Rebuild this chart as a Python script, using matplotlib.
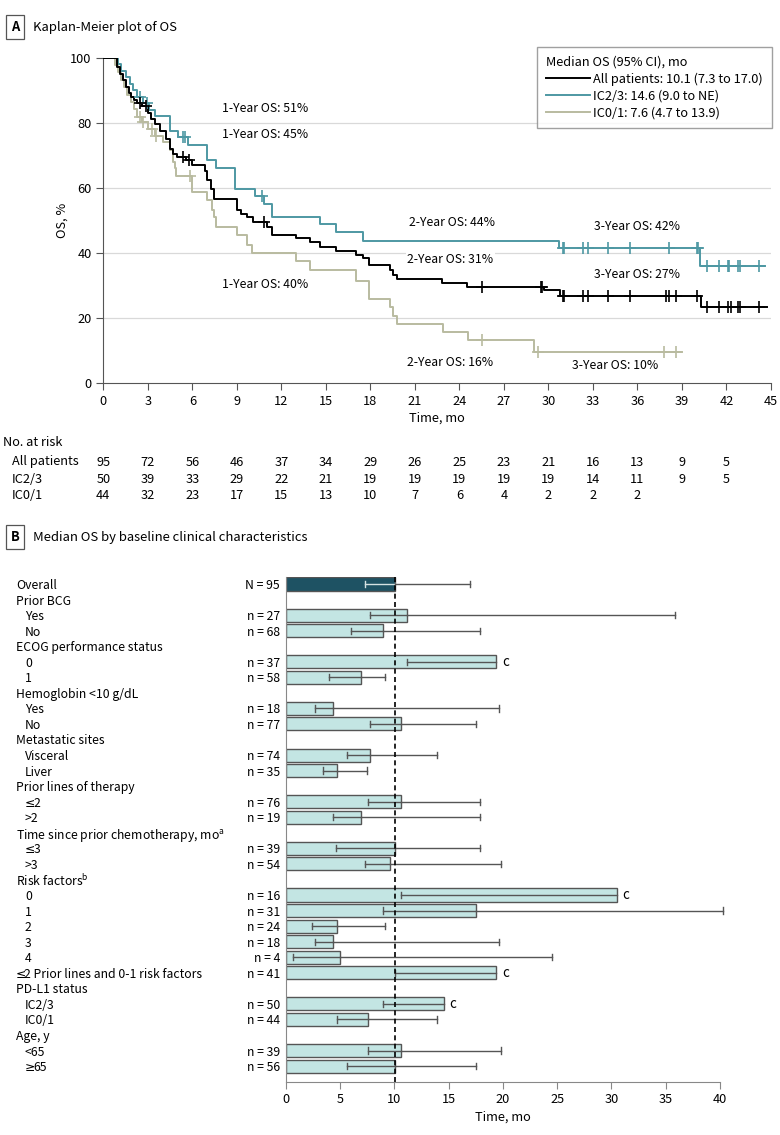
import numpy as np
import matplotlib
matplotlib.use("Agg")
import matplotlib.pyplot as plt
from matplotlib.lines import Line2D
from matplotlib.transforms import blended_transform_factory as blend, offset_copy

FONT = ['Noto Sans CJK SC', 'DejaVu Sans']
SYM_FONT = ['Noto Sans', 'DejaVu Sans']
plt.rcParams['font.family'] = FONT
plt.rcParams['mathtext.fontset'] = 'custom'
plt.rcParams['mathtext.rm'] = 'Noto Sans CJK SC'
FS = 8.8
plt.rcParams['font.size'] = FS

# ---------------- Panel A data (Kaplan-Meier) ----------------
all_t = [0, 0.9, 1.1, 1.3, 1.5, 1.7, 1.9, 2.1, 2.3, 2.6, 3.0, 3.2, 3.5, 3.8, 4.2, 4.5, 4.7, 5.0,
         5.6, 6.0, 6.85, 7.0, 7.25, 7.47, 9.0, 9.3, 9.66, 10.1, 11.0, 11.35, 13.0, 13.9, 14.6, 15.7,
         17.0, 17.5, 17.9, 19.3, 19.5, 19.8, 22.8, 24.5, 29.7, 30.8, 40.3]
all_s = [100, 97, 95, 93, 91, 89, 88, 87, 86, 85, 83, 81, 79.5, 77.5, 75, 72, 70.5, 69.5,
         68.5, 67, 65, 62.5, 59.5, 56.4, 53, 52, 51, 49.5, 48, 45.5, 44.4, 43.2, 41.8, 40.4,
         39.3, 38.3, 36.2, 34.7, 33.1, 31.8, 30.8, 29.4, 28.4, 26.8, 23.4]
all_cens = [2.47, 2.87, 5.4, 5.75, 10.8, 25.5, 29.5, 29.6, 31.0, 31.07, 32.3, 32.7, 34.0, 35.5,
            37.9, 38.1, 38.6, 40.0, 40.7, 41.5, 42.1, 42.3, 42.8, 42.9, 44.2]
all_end = 44.7

hi_t = [0, 1.0, 1.2, 1.5, 1.8, 2.0, 2.3, 2.7, 3.1, 3.5, 4.5, 5.05, 5.7, 6.97, 7.6, 8.9, 10.2,
        10.8, 11.35, 14.6, 15.7, 17.5, 30.7, 40.2]
hi_s = [100, 98, 96, 94, 92, 90, 88, 86, 84, 82, 77.5, 75.5, 73, 68.5, 66, 59.5, 57.3,
        55, 51, 48.7, 46.3, 43.5, 41.6, 35.9]
hi_cens = [2.45, 2.95, 5.4, 5.5, 10.7, 31.0, 31.07, 32.3, 32.7, 34.0, 35.5, 38.1, 40.0, 40.1,
           40.7, 41.5, 42.1, 42.2, 42.8, 42.9, 44.2]
hi_end = 44.6

lo_t = [0, 0.8, 1.0, 1.2, 1.4, 1.6, 1.9, 2.1, 2.3, 2.6, 3.0, 3.5, 4.0, 4.5, 4.7, 4.8, 4.9,
        5.95, 6.96, 7.3, 7.45, 7.6, 9.0, 9.66, 9.99, 13.0, 13.9, 17.0, 17.9, 19.3, 19.5, 19.8,
        22.9, 24.6, 29.0]
lo_s = [100, 97.7, 95.5, 93.2, 90.9, 88.6, 86.4, 84.1, 81.8, 80.3, 78, 76, 74.2, 71.6, 68, 66, 63.6,
        58.8, 56.2, 53.1, 51, 48, 45.4, 42.4, 40, 37.5, 34.7, 31.4, 25.8, 23.2, 20.6, 18.1,
        15.5, 13.0, 9.4]
lo_cens = [2.45, 2.7, 3.3, 3.55, 5.85, 25.5, 29.3, 37.8, 38.6]
lo_end = 38.97

series_names = ['All patients: 10.1 (7.3 to 17.0)', 'IC2/3: 14.6 (9.0 to NE)', 'IC0/1: 7.6 (4.7 to 13.9)']
series_colors = ['#000000', '#4E98A3', '#B9BBA0']

risk_times = [0, 3, 6, 9, 12, 15, 18, 21, 24, 27, 30, 33, 36, 39, 42]
risk_all = [95, 72, 56, 46, 37, 34, 29, 26, 25, 23, 21, 16, 13, 9, 5]
risk_hi = [50, 39, 33, 29, 22, 21, 19, 19, 19, 19, 19, 14, 11, 9, 5]
risk_lo = [44, 32, 23, 17, 15, 13, 10, 7, 6, 4, 2, 2, 2]
risk_names = ['All patients', 'IC2/3', 'IC0/1']

ann_text = ['1-Year OS: 51%', '1-Year OS: 45%', '1-Year OS: 40%',
            '2-Year OS: 44%', '2-Year OS: 31%', '2-Year OS: 16%',
            '3-Year OS: 42%', '3-Year OS: 27%', '3-Year OS: 10%']
ann_x = [10.9, 10.9, 10.9, 23.5, 23.4, 23.4, 36.0, 36.0, 34.5]
ann_y = [84.4, 76.4, 30.3, 49.2, 38.0, 6.2, 48.2, 33.4, 5.2]

# ---------------- Panel B data ----------------
row_labels = ['Overall', 'Prior BCG', 'Yes', 'No', 'ECOG performance status', '0', '1',
              'Hemoglobin <10 g/dL', 'Yes', 'No', 'Metastatic sites', 'Visceral', 'Liver',
              'Prior lines of therapy', '≤2', '>2', 'Time since prior chemotherapy, mo$^{\\mathrm{a}}$',
              '≤3', '>3', 'Risk factors$^{\\mathrm{b}}$', '0', '1', '2', '3', '4',
              '≤2 Prior lines and 0-1 risk factors', 'PD-L1 status', 'IC2/3', 'IC0/1',
              'Age, y', '<65', '≥65']
row_indent = [0, 0, 1, 1, 0, 1, 1, 0, 1, 1, 0, 1, 1, 0, 1, 1, 0, 1, 1, 0, 1, 1, 1, 1, 1,
              0, 0, 1, 1, 0, 1, 1]
n_labels = ['N = 95', '', 'n = 27', 'n = 68', '', 'n = 37', 'n = 58', '', 'n = 18', 'n = 77',
            '', 'n = 74', 'n = 35', '', 'n = 76', 'n = 19', '', 'n = 39', 'n = 54', '',
            'n = 16', 'n = 31', 'n = 24', 'n = 18', 'n = 4', 'n = 41', '', 'n = 50', 'n = 44',
            '', 'n = 39', 'n = 56']
nan = np.nan
median_os = [10.1, nan, 11.2, 9.0, nan, 19.4, 6.9, nan, 4.4, 10.6, nan, 7.8, 4.7, nan, 10.6, 6.9,
             nan, 10.1, 9.6, nan, 30.5, 17.5, 4.7, 4.4, 5.0, 19.4, nan, 14.6, 7.6, nan, 10.6, 10.1]
ci_low = [7.3, nan, 7.8, 6.0, nan, 11.2, 4.0, nan, 2.7, 7.8, nan, 5.6, 3.4, nan, 7.6, 4.4,
          nan, 4.6, 7.3, nan, 10.6, 9.0, 2.4, 2.7, 0.7, 10.1, nan, 9.0, 4.7, nan, 7.6, 5.6]
ci_high = [17.0, nan, 35.9, 17.9, nan, nan, 9.1, nan, 19.6, 17.5, nan, 13.9, 7.5, nan, 17.9, 17.9,
           nan, 17.9, 19.8, nan, nan, 40.3, 9.1, 19.6, 24.5, nan, nan, nan, 13.9, nan, 19.8, 17.5]
note_c = [0, 0, 0, 0, 0, 1, 0, 0, 0, 0, 0, 0, 0, 0, 0, 0, 0, 0, 0, 0, 1, 0, 0, 0, 0, 1, 0, 1,
          0, 0, 0, 0]
overall_median = 10.1

# ---------------- Figure ----------------
W, H = 780, 1135
fig = plt.figure(figsize=(W / 100, H / 100), dpi=100)

def fx(px):
    return px / W

def fy(py):
    return 1 - py / H

# Panel A
axA = fig.add_axes([fx(103.3), fy(382.7), fx(771) - fx(103.3), fy(57.7) - fy(382.7)])
for y in [20, 40, 60, 80]:
    axA.axhline(y, color='#d9d9d9', lw=0.9, zorder=0)

def km(ax, t, s, cens, end, color):
    t = np.asarray(t, float)
    s = np.asarray(s, float)
    tt = np.append(t, end)
    ss = np.append(s, s[-1])
    ax.step(tt, ss, where='post', color=color, lw=1.4, zorder=3)
    c = np.asarray(cens, float)
    idx = np.searchsorted(t, c, side='right') - 1
    ax.plot(c, s[idx], ls='none', marker='+', ms=9, mew=1.2, color=color, zorder=4)

km(axA, lo_t, lo_s, lo_cens, lo_end, series_colors[2])
km(axA, hi_t, hi_s, hi_cens, hi_end, series_colors[1])
km(axA, all_t, all_s, all_cens, all_end, series_colors[0])

axA.set_xlim(0, 45)
axA.set_ylim(0, 100)
axA.set_xticks(np.arange(0, 46, 3))
axA.set_yticks(np.arange(0, 101, 20))
for sp in ['top', 'right']:
    axA.spines[sp].set_visible(False)
for sp in ['left', 'bottom']:
    axA.spines[sp].set_color('#555555')
axA.tick_params(direction='out', length=5, color='#555555', labelsize=FS + 0.4)
axA.set_xlabel('Time, mo', fontsize=FS + 0.4, labelpad=3)
axA.set_ylabel('OS, %', fontsize=FS + 0.4, labelpad=1)

for txt, x, y in zip(ann_text, ann_x, ann_y):
    axA.text(x, y, txt, ha='center', va='center', fontsize=FS,
             bbox=dict(boxstyle='square,pad=0.1', fc='white', ec='none'), zorder=5)

handles = [Line2D([], [], color=c, lw=1.4) for c in series_colors]
leg = fig.legend(handles, series_names, title='Median OS (95% CI), mo', loc='upper right',
                 bbox_to_anchor=(fx(772), fy(46.5)), frameon=True, fancybox=False,
                 edgecolor='#888888', fontsize=FS + 0.4, title_fontsize=FS + 0.4,
                 alignment='left', handlelength=3.4, handletextpad=0.3, labelspacing=0.3,
                 borderpad=0.7, borderaxespad=0)
leg.get_frame().set_linewidth(1.0)

# Panel titles
fig.text(fx(15), fy(27), 'A', ha='center', va='center', fontsize=FS + 0.5, fontweight='bold',
         bbox=dict(boxstyle='square,pad=0.35', fc='white', ec='#555555', lw=0.9))
fig.text(fx(33), fy(27), 'Kaplan-Meier plot of OS', ha='left', va='center', fontsize=FS + 0.6)
fig.text(fx(15), fy(537), 'B', ha='center', va='center', fontsize=FS + 0.5, fontweight='bold',
         bbox=dict(boxstyle='square,pad=0.35', fc='white', ec='#555555', lw=0.9))
fig.text(fx(33), fy(537), 'Median OS by baseline clinical characteristics', ha='left',
         va='center', fontsize=FS + 0.6)

# Risk table
trA = blend(axA.transData, fig.transFigure)
fig.text(fx(3), fy(443), 'No. at risk', ha='left', va='center', fontsize=FS + 0.4)
for name, counts, py in zip(risk_names, [risk_all, risk_hi, risk_lo], [462, 479, 496]):
    fig.text(fx(12), fy(py), name, ha='left', va='center', fontsize=FS + 0.4)
    for t, n in zip(risk_times, counts):
        fig.text(t, fy(py), str(n), transform=trA, ha='center', va='center', fontsize=FS + 0.4)

# Panel B
row_h = 15.55
top_py = 584 - 0.45 * row_h
bot_py = 584 + 32 * row_h
axB = fig.add_axes([fx(285.7), fy(bot_py), fx(720) - fx(285.7), fy(top_py) - fy(bot_py)])
rows = np.arange(len(row_labels))
med = np.array(median_os, float)
lo = np.array(ci_low, float)
hi = np.array(ci_high, float)
has = ~np.isnan(med)
colors = ['#1E5263' if i == 0 else '#C3E5E3' for i in rows]
axB.barh(rows[has], med[has], height=0.84, color=[colors[i] for i in rows[has]],
         edgecolor='#555555', linewidth=1.0, zorder=2)
ecol = '#555555'
for i in rows[has]:
    right = hi[i] if not np.isnan(hi[i]) else med[i]
    inner = '#d5e2e2' if i == 0 else ecol
    axB.plot([lo[i], min(right, med[i])], [i, i], color=inner, lw=1.0, zorder=3, clip_on=False)
    if right > med[i]:
        axB.plot([med[i], right], [i, i], color=ecol, lw=1.0, zorder=3, clip_on=False)
    axB.plot([lo[i], lo[i]], [i - 0.2, i + 0.2], color=inner, lw=1.0, zorder=3, clip_on=False)
    if not np.isnan(hi[i]):
        axB.plot([hi[i], hi[i]], [i - 0.2, i + 0.2], color=ecol, lw=1.0, zorder=3,
                 clip_on=False)
    if note_c[i]:
        axB.text(med[i] + 0.5, i, 'c', ha='left', va='center', fontsize=FS + 0.8)
axB.plot([overall_median, overall_median], [-0.42, 32], color='black', lw=1.2, ls=(0, (3, 2)),
         zorder=4)
axB.set_xlim(0, 40)
axB.set_ylim(32, -0.45)
axB.set_yticks([])
axB.set_xticks(np.arange(0, 41, 5))
for sp in ['top', 'right']:
    axB.spines[sp].set_visible(False)
for sp in ['left', 'bottom']:
    axB.spines[sp].set_color('#888888')
axB.tick_params(axis='x', direction='out', length=5, color='#888888', labelsize=FS + 0.4)
axB.set_xlabel('Time, mo', fontsize=FS + 0.4, labelpad=3)

trB = blend(fig.transFigure, axB.transData)
sym_w = 8.5  # pixel advance reserved for the comparison sign
for i, (lab, ind, nl) in enumerate(zip(row_labels, row_indent, n_labels)):
    x0 = fx(16 + 9 * ind)
    if lab[0] in '≤≥':
        fig.text(x0, i, lab[0], transform=trB, ha='left', va='center_baseline',
                 fontsize=FS, family=SYM_FONT)
        fig.text(x0, i, lab[1:], transform=offset_copy(trB, fig=fig, x=sym_w, y=0,
                 units='dots'), ha='left', va='center_baseline', fontsize=FS)
    else:
        fig.text(x0, i, lab, transform=trB, ha='left', va='center_baseline', fontsize=FS)
    if nl:
        fig.text(fx(280), i, nl, transform=trB, ha='right', va='center_baseline', fontsize=FS)

fig.savefig('out.png', dpi=100)
